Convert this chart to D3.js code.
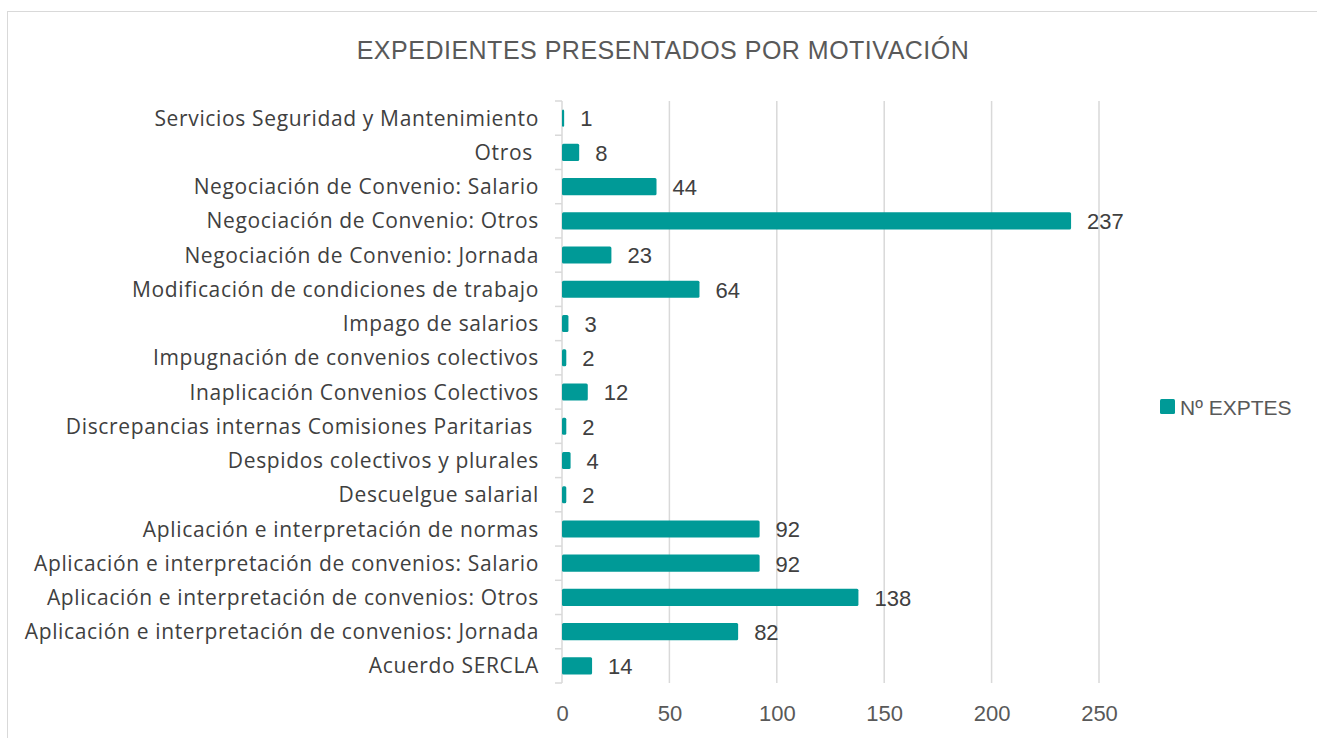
<!DOCTYPE html>
<html>
<head>
<meta charset="utf-8">
<script src="https://cdn.jsdelivr.net/npm/d3@7"></script>
<style>
  body { margin: 0; background: #fff; }
  svg text { font-family: "Liberation Sans", Arial, sans-serif; }
  svg text.cat { font-family: "Open Sans", sans-serif; }
</style>
</head>
<body>
<svg id="chart"></svg>
<script>
const categories = [
  "Servicios Seguridad y Mantenimiento",
  "Otros ",
  "Negociación de Convenio: Salario",
  "Negociación de Convenio: Otros",
  "Negociación de Convenio: Jornada",
  "Modificación de condiciones de trabajo",
  "Impago de salarios",
  "Impugnación de convenios colectivos",
  "Inaplicación Convenios Colectivos",
  "Discrepancias internas Comisiones Paritarias ",
  "Despidos colectivos y plurales",
  "Descuelgue salarial",
  "Aplicación e interpretación de normas",
  "Aplicación e interpretación de convenios: Salario",
  "Aplicación e interpretación de convenios: Otros",
  "Aplicación e interpretación de convenios: Jornada",
  "Acuerdo SERCLA"
];
const values = [1, 8, 44, 237, 23, 64, 3, 2, 12, 2, 4, 2, 92, 92, 138, 82, 14];
const xTicks = [0, 50, 100, 150, 200, 250];
const seriesName = "Nº EXPTES";
const title = "EXPEDIENTES PRESENTADOS POR MOTIVACIÓN";

const width = 1317;
const height = 738;
const color = "#009a97";
const margin = {top: 101, right: 218, bottom: 55, left: 562};

const svg = d3.select("#chart")
              .attr("width", width)
              .attr("height", height);

// outer chart border
svg.append("rect")
   .attr("x", 7.5)
   .attr("y", 11.5)
   .attr("width", width)
   .attr("height", height)
   .attr("fill", "none")
   .attr("stroke", "#d9d9d9");

const x = d3.scaleLinear()
            .domain([0, 250])
            .range([margin.left, width - margin.right]);

const y = d3.scaleBand()
            .domain(categories)
            .range([margin.top, height - margin.bottom])
            .paddingInner(0.5)
            .paddingOuter(0.25);

// gridlines
svg.append("g")
   .selectAll("line")
   .data(xTicks.slice(1))
   .enter()
   .append("line")
   .attr("x1", d => x(d))
   .attr("x2", d => x(d))
   .attr("y1", margin.top)
   .attr("y2", height - margin.bottom)
   .attr("stroke", "#d9d9d9")
   .attr("stroke-width", 1.5);

// x axis labels
const xAxis = d3.axisBottom(x).tickValues(xTicks).tickSize(0).tickPadding(22);
const gx = svg.append("g")
   .attr("transform", "translate(0," + (height - margin.bottom) + ")")
   .call(xAxis);
gx.select(".domain").remove();
gx.selectAll("text")
  .attr("fill", "#595959")
  .style("font-family", "'Liberation Sans', Arial, sans-serif")
  .style("font-size", "22px");

// y axis: line + small ticks at band boundaries
const step = y.step();
const boundaries = d3.range(categories.length + 1).map(i => margin.top + i * step);
svg.append("line")
   .attr("x1", margin.left)
   .attr("x2", margin.left)
   .attr("y1", margin.top)
   .attr("y2", height - margin.bottom)
   .attr("stroke", "#d9d9d9")
   .attr("stroke-width", 1.5);
svg.append("g")
   .selectAll("line")
   .data(boundaries)
   .enter()
   .append("line")
   .attr("x1", margin.left - 7)
   .attr("x2", margin.left)
   .attr("y1", d => d)
   .attr("y2", d => d)
   .attr("stroke", "#d9d9d9")
   .attr("stroke-width", 1.5);

// category labels
svg.append("g")
   .selectAll("text")
   .data(categories)
   .enter()
   .append("text")
   .attr("class", "cat")
   .attr("x", margin.left - 23)
   .attr("y", d => y(d) + y.bandwidth() / 2)
   .attr("dy", "0.36em")
   .attr("text-anchor", "end")
   .style("white-space", "pre")
   .style("font-size", "21px")
   .style("letter-spacing", "0.65px")
   .attr("fill", "#404040")
   .text(d => d);

// bars
svg.append("g")
   .selectAll("rect")
   .data(values)
   .enter()
   .append("rect")
   .attr("x", x(0))
   .attr("y", (d, i) => y(categories[i]))
   .attr("width", d => x(d) - x(0))
   .attr("height", y.bandwidth())
   .attr("rx", 1.5)
   .attr("fill", color);

// value labels
svg.append("g")
   .selectAll("text")
   .data(values)
   .enter()
   .append("text")
   .attr("x", d => x(d) + 16)
   .attr("y", (d, i) => y(categories[i]) + y.bandwidth() / 2)
   .attr("dy", "0.38em")
   .style("font-size", "22px")
   .attr("fill", "#404040")
   .text(d => d);

// title
svg.append("text")
   .attr("x", 663)
   .attr("y", 59)
   .attr("text-anchor", "middle")
   .style("font-size", "25px")
   .style("letter-spacing", "0.5px")
   .attr("fill", "#595959")
   .text(title);

// legend
const legend = svg.append("g").attr("transform", "translate(1160,399)");
legend.append("rect")
      .attr("width", 15)
      .attr("height", 15)
      .attr("rx", 1.5)
      .attr("fill", color);
legend.append("text")
      .attr("x", 20)
      .attr("y", 8)
      .attr("dy", "0.36em")
      .style("font-size", "21px")
      .attr("fill", "#595959")
      .text(seriesName);
</script>
</body>
</html>
